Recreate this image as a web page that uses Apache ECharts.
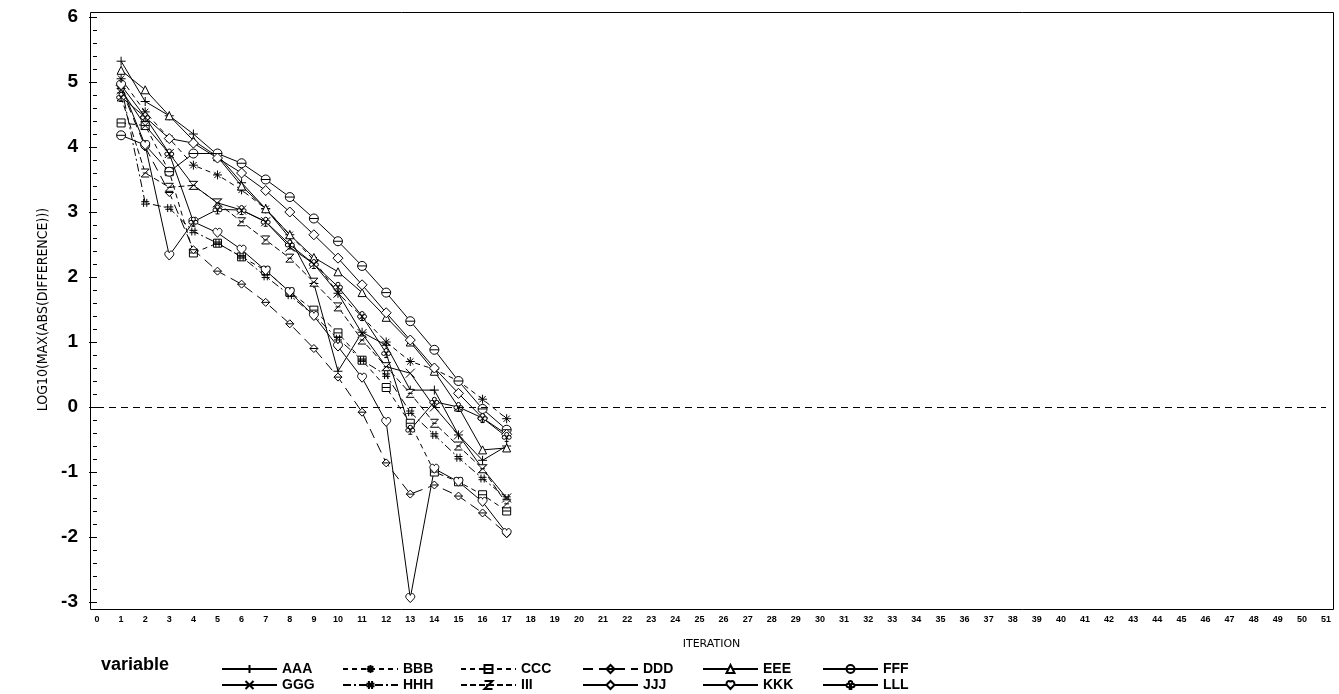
<!DOCTYPE html>
<html>
<head>
<meta charset="utf-8">
<script src="https://cdn.jsdelivr.net/npm/echarts@6/dist/echarts.min.js"></script>
<style>
  html, body { margin: 0; padding: 0; background: #fff; }
  #chart { width: 1339px; height: 694px; }
</style>
</head>
<body>
<div id="chart"></div>
<script>
// iteration numbers and log10(max(abs(difference))) per variable
var iterations = [1, 2, 3, 4, 5, 6, 7, 8, 9, 10, 11, 12, 13, 14, 15, 16, 17];
var AAA = [5.32, 4.70, 4.48, 4.20, 3.88, 3.45, 3.05, 2.60, 1.90, 0.55, 1.15, 0.95, 0.26, 0.26, -0.43, -0.82, -0.60];
var BBB = [5.05, 4.54, 4.13, 3.72, 3.57, 3.34, 3.05, 2.65, 2.26, 1.75, 1.39, 1.00, 0.70, 0.58, 0.40, 0.12, -0.18];
var CCC = [4.37, 4.33, 3.62, 2.37, 2.52, 2.31, 2.10, 1.77, 1.49, 1.14, 0.72, 0.30, -0.25, -1.00, -1.15, -1.35, -1.60];
var DDD = [4.90, 4.00, 3.30, 2.42, 2.09, 1.89, 1.61, 1.28, 0.90, 0.46, -0.08, -0.86, -1.34, -1.20, -1.37, -1.63, -1.95];
var EEE = [5.18, 4.88, 4.48, 4.10, 3.85, 3.40, 3.05, 2.65, 2.30, 2.08, 1.76, 1.38, 1.00, 0.55, 0.00, -0.66, -0.63];
var FFF = [4.18, 4.03, 3.62, 3.90, 3.90, 3.75, 3.50, 3.23, 2.90, 2.55, 2.17, 1.76, 1.32, 0.88, 0.40, -0.03, -0.35];
var GGG = [4.88, 4.33, 3.90, 3.41, 3.14, 3.03, 2.85, 2.46, 2.20, 1.75, 1.13, 0.62, 0.52, 0.00, -0.43, -0.95, -1.40];
var HHH = [4.95, 3.14, 3.06, 2.70, 2.52, 2.31, 2.01, 1.72, 1.41, 1.05, 0.72, 0.49, -0.08, -0.43, -0.78, -1.10, -1.40];
var III = [4.77, 3.60, 3.38, 3.41, 3.14, 2.85, 2.57, 2.29, 1.92, 1.54, 1.03, 0.62, 0.21, -0.25, -0.60, -0.95, -1.49];
var JJJ = [4.95, 4.46, 4.13, 4.06, 3.83, 3.60, 3.33, 3.00, 2.65, 2.29, 1.88, 1.45, 1.03, 0.60, 0.21, -0.17, -0.42];
var KKK = [4.95, 4.03, 2.33, 2.85, 2.68, 2.42, 2.10, 1.77, 1.40, 0.93, 0.45, -0.23, -2.94, -0.95, -1.15, -1.46, -1.94];
var LLL = [4.77, 4.46, 3.90, 2.85, 3.04, 3.03, 2.85, 2.50, 2.20, 1.85, 1.40, 0.83, -0.35, 0.08, 0.00, -0.17, -0.46];

var names = ['AAA', 'BBB', 'CCC', 'DDD', 'EEE', 'FFF', 'GGG', 'HHH', 'III', 'JJJ', 'KKK', 'LLL'];
var values = [AAA, BBB, CCC, DDD, EEE, FFF, GGG, HHH, III, JJJ, KKK, LLL];

// marker shapes and line styles
var symbols = [
    'path://M0,5L10,5M5,0L5,10',
    'path://M0,5L10,5M5,0L5,10M1.5,1.5L8.5,8.5M8.5,1.5L1.5,8.5',
    'path://M0,0L10,0L10,10L0,10ZM0,5L10,5',
    'path://M0,5L5,1.5L10,5L5,8.5ZM0,5L10,5',
    'path://M5,0L10,9L0,9Z',
    'path://M0,5A5,4,0,1,1,10,5A5,4,0,1,1,0,5ZM0,5L10,5',
    'path://M0,0L10,10M10,0L0,10',
    'path://M3,0L3,10M7,0L7,10M0,3.5L10,3.5M0,6.5L10,6.5',
    'path://M0,0L10,0L0,10L10,10M2,5L8,5',
    'path://M0,5L5,0L10,5L5,10Z',
    'path://M5,10L1,5.5C-1,3,1,0,3,0C4.2,0,5,1,5,2C5,1,5.8,0,7,0C9,0,11,3,9,5.5Z',
    'path://M5,0.5A2,2,0,1,1,4.99,0.5ZM2.5,3.8A2,2,0,1,1,2.49,3.8ZM7.5,3.8A2,2,0,1,1,7.49,3.8ZM5,5L5,10M3,10L7,10'
];
var sizes = [9, 9, 8, 8, 8, 9, 9, 8, 8, 10, 9, 9];
var dashes = ['solid', [5, 4], [5, 4], [10, 6], 'solid', 'solid', 'solid', [8, 3, 2, 3], [6, 3], 'solid', 'solid', 'solid'];

var chart = echarts.init(document.getElementById('chart'));

var series = names.map(function (n, k) {
    var s = {
        name: n,
        type: 'line',
        data: iterations.map(function (it, i) { return [it, values[k][i]]; }),
        symbol: symbols[k],
        symbolSize: sizes[k],
        showAllSymbol: true,
        itemStyle: { color: '#fff', borderColor: '#000', borderWidth: 1 },
        lineStyle: { color: '#000', width: 1, type: dashes[k] },
        emphasis: { disabled: true }
    };
    if (k == 0) {
        s.markLine = {
            silent: true,
            symbol: 'none',
            label: { show: false },
            lineStyle: { color: '#000', type: [7, 5], width: 1 },
            data: [{ yAxis: 0 }]
        };
    }
    return s;
});

var legendLeft = [216, 337, 455, 577, 697, 817];
var legends = names.map(function (n, k) {
    return {
        data: [n],
        left: legendLeft[k % 6],
        top: k < 6 ? 657 : 673,
        itemWidth: 55,
        itemHeight: 10,
        itemGap: 0,
        selectedMode: false,
        textStyle: { fontFamily: 'Liberation Sans', fontWeight: 'bold', fontSize: 14, color: '#000' }
    };
});

var option = {
    animation: false,
    backgroundColor: '#fff',
    grid: { left: 97, right: 13, top: 17, bottom: 92 },
    legend: legends,
    xAxis: {
        type: 'value',
        min: 0,
        max: 51,
        interval: 1,
        offset: 7,
        name: 'ITERATION',
        nameLocation: 'middle',
        nameGap: 30,
        nameTextStyle: { fontFamily: 'DejaVu Sans', fontSize: 11, color: '#000' },
        axisLine: { show: false },
        axisTick: { show: false },
        splitLine: { show: false },
        axisLabel: { interval: 0, margin: 6, fontFamily: 'Liberation Sans', fontWeight: 'bold', fontSize: 9, color: '#000' }
    },
    yAxis: {
        type: 'value',
        min: -3,
        max: 6,
        interval: 1,
        offset: 7,
        name: 'LOG10(MAX(ABS(DIFFERENCE)))',
        nameLocation: 'middle',
        nameGap: 33,
        nameRotate: 90,
        nameTextStyle: { fontFamily: 'DejaVu Sans Condensed', fontSize: 14, color: '#000' },
        axisLine: { show: false },
        axisTick: { show: true, length: 8, lineStyle: { color: '#000' } },
        minorTick: { show: true, splitNumber: 5, length: 4, lineStyle: { color: '#000' } },
        splitLine: { show: false },
        axisLabel: { margin: 12, fontFamily: 'Liberation Sans', fontWeight: 'bold', fontSize: 19, color: '#000' }
    },
    graphic: [
        {
            type: 'rect',
            silent: true,
            shape: { x: 90.5, y: 12.5, width: 1243, height: 597 },
            style: { fill: 'none', stroke: '#000', lineWidth: 1 }
        },
        {
            type: 'text',
            left: 101,
            top: 656,
            style: { text: 'variable', fontFamily: 'Liberation Sans', fontWeight: 'bold', fontSize: 18, fill: '#000' }
        }
    ],
    series: series
};

chart.setOption(option);
</script>
</body>
</html>
